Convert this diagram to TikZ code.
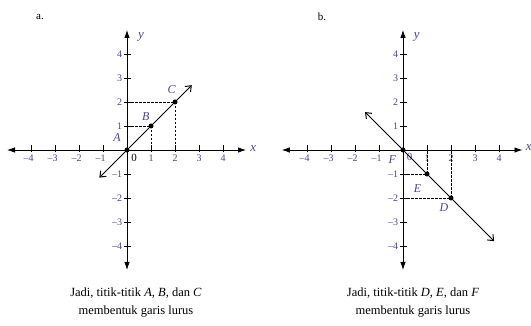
\documentclass[tikz,border=0pt]{standalone}
\usepackage{fontspec}
\setmainfont{Liberation Serif}
\usetikzlibrary{arrows.meta}
\definecolor{lbl}{RGB}{80,66,150}
\begin{document}
\begin{tikzpicture}[
  axisline/.style={line width=0.8pt, {Latex[length=8pt,width=5.5pt]}-{Latex[length=8pt,width=5.5pt]}},
  gline/.style={line width=1pt, {Straight Barb[length=5pt,width=8pt]}-{Straight Barb[length=5pt,width=8pt]}},
  guide/.style={line width=0.5pt, dash pattern=on 2.5pt off 1.5pt},
  tickmark/.style={line width=0.5pt},
  ticklbl/.style={text=lbl, font=\fontsize{10}{10}\selectfont, inner sep=0pt},
  zerolbl/.style={font=\fontsize{11}{11}\selectfont, inner sep=0pt},
  ptlbl/.style={text=lbl, font=\fontsize{12}{12}\selectfont\itshape, inner sep=0pt},
  axlbl/.style={text=lbl, font=\fontsize{13}{13}\selectfont\itshape, inner sep=0pt},
  ptdot/.style={circle, fill=black, inner sep=0pt, minimum size=5pt},
  captxt/.style={font=\fontsize{12.5}{18.5}\selectfont, align=center, inner sep=0pt},
  panel/.style={font=\fontsize{11}{11}\selectfont, inner sep=0pt}
]
\useasboundingbox (0pt,0pt) rectangle (531pt,-326pt);

% ---------------- panel a ----------------
\node[panel] (pa) at (40pt,-17pt) {a.};
\begin{scope}[shift={(127pt,-150pt)}, x=24pt, y=24pt]
  \coordinate (aW) at (-5,0);
  \coordinate (aE) at (4.96,0);
  \coordinate (aS) at (0,-5);
  \coordinate (aN) at (0,5);
  \draw[axisline] (aW) -- (aE);
  \draw[axisline] (aS) -- (aN);
  \foreach \i in {-4,-3,-2,-1,1,2,3,4} {
    \draw[tickmark] (\i,-0.1) -- (\i,0.2);
    \draw[tickmark] (-0.12,\i) -- (0.18,\i);
  }
  \foreach \i in {1,2,3,4} {
    \node[ticklbl, anchor=north] (axp\i) at (\i,-0.18) {\i};
    \node[ticklbl, anchor=north east] (axm\i) at (-\i+0.12,-0.18) {--\i};
    \node[ticklbl, anchor=east] (ayp\i) at (-0.2,\i) {\i};
    \node[ticklbl, anchor=east] (aym\i) at (-0.2,-\i) {--\i};
  }
  \node[zerolbl] (a0) at (0.3,-0.32) {0};
  \node[axlbl] (ax) at (5.26,0.08) {x};
  \node[axlbl] (ay) at (0.58,4.72) {y};
  \coordinate (aL1) at (-1.15,-1.15);
  \coordinate (aL2) at (2.7,2.7);
  \draw[gline] (aL1) -- (aL2);
  \coordinate (aY1) at (0,1);
  \coordinate (aX1) at (1,0);
  \coordinate (aY2) at (0,2);
  \coordinate (aX2) at (2,0);
  \node[ptdot] (A) at (0,0) {};
  \node[ptdot] (B) at (1,1) {};
  \node[ptdot] (C) at (2,2) {};
  \draw[guide] (aY1) -- (B.center) -- (aX1);
  \draw[guide] (aY2) -- (C.center) -- (aX2);
  \node[ptlbl] (lA) at (-0.42,0.5) {A};
  \node[ptlbl] (lB) at (0.78,1.39) {B};
  \node[ptlbl] (lC) at (1.86,2.5) {C};
\end{scope}
\node[captxt] (capa) at (136pt,-302.5pt) {Jadi, titik-titik \textit{A}, \textit{B}, dan \textit{C}\\membentuk garis lurus};

% ---------------- panel b ----------------
\node[panel] (pb) at (322pt,-17pt) {b.};
\begin{scope}[shift={(403pt,-150pt)}, x=24pt, y=24pt]
  \coordinate (bW) at (-5.05,0);
  \coordinate (bE) at (4.98,0);
  \coordinate (bS) at (0,-5);
  \coordinate (bN) at (0,5);
  \draw[axisline] (bW) -- (bE);
  \draw[axisline] (bS) -- (bN);
  \foreach \i in {-4,-3,-2,-1,1,2,3,4} {
    \draw[tickmark] (\i,-0.1) -- (\i,0.2);
    \draw[tickmark] (-0.12,\i) -- (0.18,\i);
  }
  \foreach \i in {1,2,3,4} {
    \node[ticklbl, anchor=north] (bxp\i) at (\i,-0.18) {\i};
    \node[ticklbl, anchor=north east] (bxm\i) at (-\i+0.12,-0.18) {--\i};
    \node[ticklbl, anchor=east] (byp\i) at (-0.2,\i) {\i};
    \node[ticklbl, anchor=east] (bym\i) at (-0.2,-\i) {--\i};
  }
  \node[zerolbl, text=lbl] (b0) at (0.28,-0.3) {0};
  \node[axlbl] (bx) at (5.24,0.1) {x};
  \node[axlbl] (by) at (0.57,4.72) {y};
  \coordinate (bL1) at (-1.58,1.58);
  \coordinate (bL2) at (3.8,-3.8);
  \draw[gline] (bL1) -- (bL2);
  \coordinate (bY1) at (0,-1);
  \coordinate (bX1) at (1,0);
  \coordinate (bY2) at (0,-2);
  \coordinate (bX2) at (2,0);
  \node[ptdot] (F) at (0,0) {};
  \node[ptdot] (E) at (1,-1) {};
  \node[ptdot] (D) at (2,-2) {};
  \draw[guide] (bY1) -- (E.center) -- (bX1);
  \draw[guide] (bY2) -- (D.center) -- (bX2);
  \node[ptlbl] (lF) at (-0.45,-0.38) {F};
  \node[ptlbl] (lE) at (0.61,-1.6) {E};
  \node[ptlbl] (lD) at (1.71,-2.4) {D};
\end{scope}
\node[captxt] (capb) at (413pt,-302.5pt) {Jadi, titik-titik \textit{D}, \textit{E}, dan \textit{F}\\membentuk garis lurus};
\end{tikzpicture}
\end{document}
